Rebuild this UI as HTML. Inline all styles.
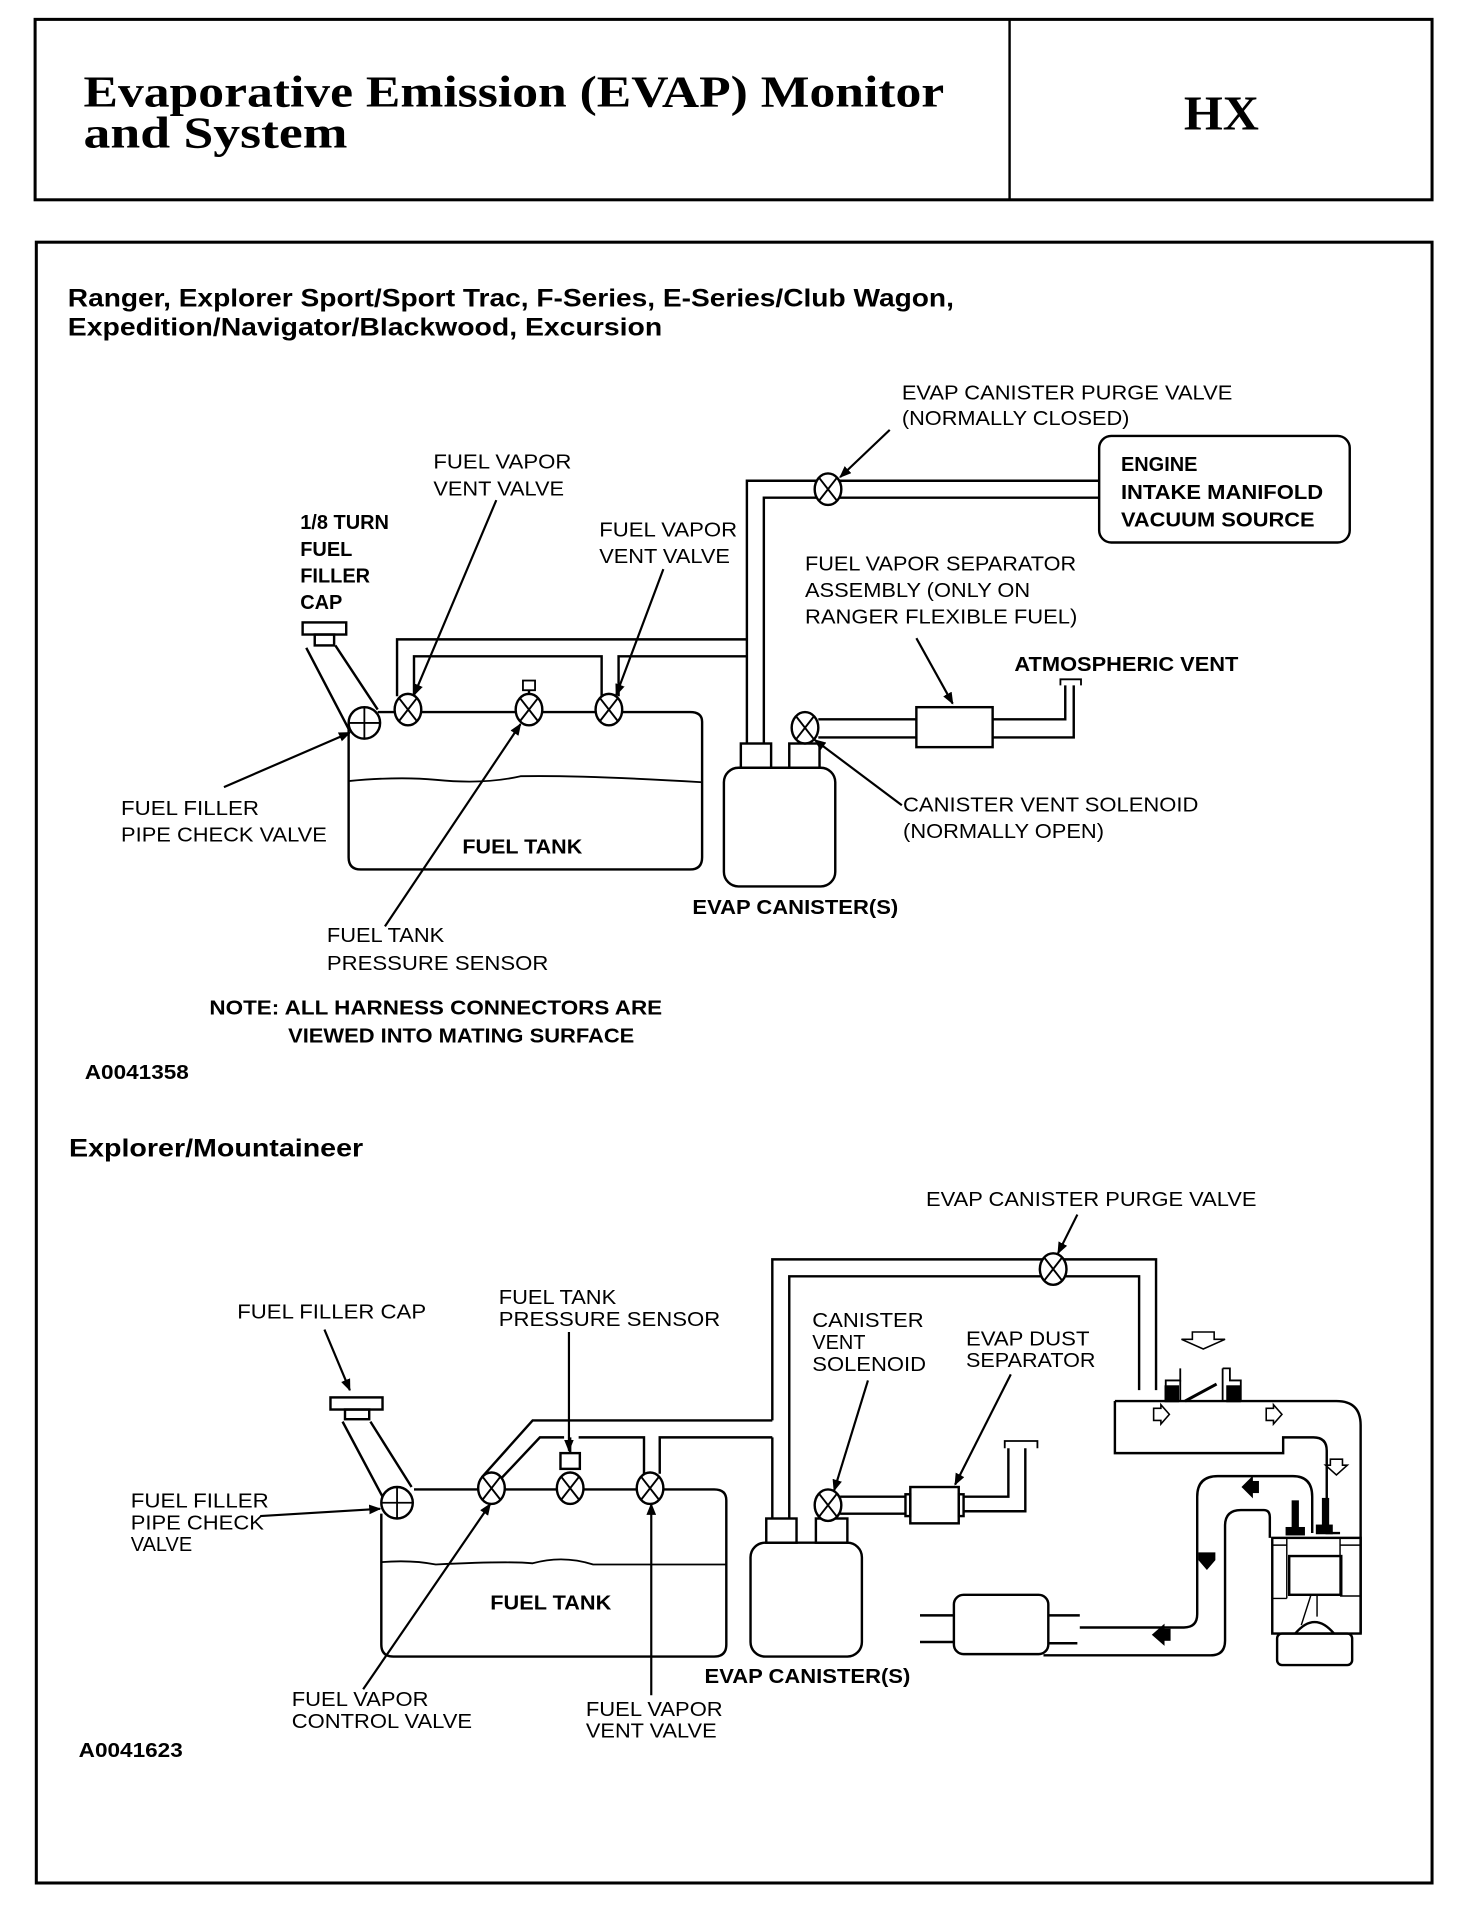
<!DOCTYPE html>
<html><head><meta charset="utf-8"><style>
html,body{margin:0;padding:0;background:#fff;}
svg{display:block;}
text{font-family:"Liberation Sans",Arial,sans-serif;fill:#000;}
.l{font-size:16.5px;}
.b{font-size:16.5px;font-weight:bold;}
.h{font-size:21px;font-weight:bold;}
.t{font-family:"Liberation Serif",serif;font-weight:bold;}
</style></head><body>
<svg width="1472" height="1906" viewBox="0 0 1216 1574" preserveAspectRatio="none" xmlns="http://www.w3.org/2000/svg">
<defs>
<marker id="ar" markerWidth="10" markerHeight="8" refX="9" refY="4" orient="auto" markerUnits="userSpaceOnUse">
<path d="M0,0 L10,4 L0,8 z" fill="#000"/></marker>
<g id="v"><ellipse cx="0" cy="0" rx="11" ry="13" fill="#fff" stroke="#000" stroke-width="2"/><path d="M-7,-9 L7,9 M7,-9 L-7,9" stroke="#000" stroke-width="1.6"/></g>
</defs>
<g fill="none" stroke="#000" stroke-width="2">
<rect x="29" y="16" width="1154" height="149" stroke-width="2.5"/>
<line x1="834" y1="16" x2="834" y2="165"/>
<rect x="30" y="200" width="1153" height="1355" stroke-width="2.5"/>

<path d="M617,614 V397 H908"/>
<path d="M631,614 V411 H908"/>
<rect x="908" y="360" width="207" height="88" rx="10"/>
<path d="M328,575 V528 H617"/>
<path d="M342,575 V542 H497 V575"/>
<path d="M511,575 V542 H617"/>
<path d="M288,600 V708 Q288,718 298,718 H570 Q580,718 580,708 V596 Q580,588 570,588 H312"/>
<path d="M288,645 Q330,641 360,644 Q400,648 430,641 Q480,640 580,646" stroke-width="1.5"/>
<rect x="250" y="514" width="36" height="10"/>
<rect x="260" y="524" width="16" height="9"/>
<path d="M253,535 L288,602 M277,533 L312,586"/>
<circle cx="301" cy="597" r="13" fill="#fff"/>
<path d="M301,584 V610 M288,597 H314" stroke-width="1.5"/>
<rect x="432" y="562" width="10" height="8" stroke-width="1.5"/>
<line x1="437" y1="570" x2="437" y2="574"/>
<rect x="612" y="614" width="25" height="20"/>
<rect x="652" y="614" width="25" height="20"/>
<rect x="598" y="634" width="92" height="98" rx="12"/>
<path d="M676,594 H757 M676,609 H757"/>
<rect x="757" y="584" width="63" height="33"/>
<path d="M820,594 H880 V566 M820,609 H887 V566"/>
<path d="M876,566 V561 H893 V566" stroke-width="1.5"/>
<g stroke-width="1.8">
<line x1="735" y1="355" x2="694" y2="394" marker-end="url(#ar)"/>
<line x1="410" y1="413" x2="342" y2="574" marker-end="url(#ar)"/>
<line x1="548" y1="470" x2="509" y2="574" marker-end="url(#ar)"/>
<line x1="757" y1="527" x2="787" y2="581" marker-end="url(#ar)"/>
<line x1="745" y1="665" x2="673" y2="611" marker-end="url(#ar)"/>
<line x1="185" y1="650" x2="289" y2="605" marker-end="url(#ar)"/>
<line x1="318" y1="765" x2="430" y2="598" marker-end="url(#ar)"/>
</g>

<path d="M638,1173 V1040 H955 V1148"/>
<path d="M652,1254 V1054 H941 V1148"/>
<path d="M638,1187 V1254"/>
<path d="M398,1220 L440,1173 H638"/>
<path d="M413,1222 L446,1187 H466 M478,1187 H532 V1217 M545,1217 V1187 H638"/>
<line x1="471" y1="1187" x2="471" y2="1200"/>
<rect x="463" y="1200" width="16" height="13" fill="#fff"/>
<path d="M315,1250 V1358 Q315,1368 325,1368 H590 Q600,1368 600,1358 V1239 Q600,1230 590,1230 H342"/>
<path d="M315,1290 Q340,1288 360,1292 Q420,1289 440,1291 Q465,1284 490,1292 H600" stroke-width="1.5"/>
<rect x="273" y="1154" width="43" height="10"/>
<rect x="285" y="1164" width="20" height="8"/>
<path d="M283,1174 L316,1236 M306,1174 L340,1228"/>
<circle cx="328" cy="1241" r="13" fill="#fff"/>
<path d="M328,1228 V1254 M315,1241 H341" stroke-width="1.5"/>
<rect x="633" y="1254" width="25" height="20"/>
<rect x="674" y="1254" width="26" height="20"/>
<rect x="620" y="1274" width="92" height="94" rx="12"/>
<path d="M694,1236 H748 M694,1250 H748"/>
<rect x="752" y="1228" width="40" height="30"/>
<rect x="748" y="1234" width="4" height="18"/><rect x="792" y="1234" width="4" height="18"/>
<path d="M796,1236 H833 V1196 M796,1248 H847 V1196"/>
<path d="M830,1196 V1190 H857 V1196" stroke-width="1.5"/>
<g stroke-width="1.8">
<line x1="890" y1="1003" x2="874" y2="1035" marker-end="url(#ar)"/>
<line x1="268" y1="1098" x2="289" y2="1148" marker-end="url(#ar)"/>
<line x1="470" y1="1100" x2="470" y2="1198" marker-end="url(#ar)"/>
<line x1="717" y1="1140" x2="689" y2="1231" marker-end="url(#ar)"/>
<line x1="835" y1="1135" x2="789" y2="1226" marker-end="url(#ar)"/>
<line x1="215" y1="1252" x2="314" y2="1246" marker-end="url(#ar)"/>
<line x1="300" y1="1395" x2="405" y2="1242" marker-end="url(#ar)"/>
<line x1="538" y1="1400" x2="538" y2="1242" marker-end="url(#ar)"/>
</g>
<path d="M921,1157 V1200 H1060 V1187 H1085 Q1096,1187 1096,1198 V1266 H1107"/>
<path d="M921,1157 H1104 Q1124,1157 1124,1177 V1349"/>
<path d="M963,1157 V1140 H975 V1130 M1010,1130 V1157 M1010,1130 H1016 V1140 H1025 V1157" stroke-width="1.5"/>
<path d="M975,1140 V1157" stroke-width="1.5"/>
<rect x="963" y="1145" width="10" height="12" fill="#000"/>
<rect x="1014" y="1145" width="10" height="12" fill="#000"/>
<path d="M979,1157 L1005,1143" stroke-width="2.5"/>
<path d="M892,1344 H978 Q989,1344 989,1333 V1236 Q989,1219 1006,1219 H1068 Q1084,1219 1084,1236 V1266"/>
<path d="M862,1367 H1000 Q1012,1367 1012,1355 V1260 Q1012,1247 1025,1247 H1044 Q1049,1247 1049,1253 V1270"/>
<rect x="1051" y="1270" width="73" height="79"/>
<rect x="1065" y="1285" width="43" height="32"/>
<path d="M1051,1276 H1063 M1107,1276 H1124 M1051,1320 H1063 M1107,1318 H1124 M1063,1270 V1320 M1107,1270 V1318" stroke-width="1.2"/>
<path d="M1070,1349 Q1086,1330 1102,1349" />
<path d="M1083,1317 L1075,1342 M1088,1317 V1335" stroke-width="1.2"/>
<rect x="1055" y="1349" width="62" height="26" rx="4"/>
<rect x="1068" y="1240" width="4" height="24" fill="#000"/><rect x="1063" y="1262" width="14" height="5" fill="#000"/>
<rect x="1093" y="1238" width="4" height="26" fill="#000"/><rect x="1088" y="1260" width="12" height="6" fill="#000"/>
<rect x="788" y="1317" width="78" height="49" rx="8"/>
<path d="M760,1334 H788 M760,1356 H788 M866,1334 H892 M866,1357 H890"/>
<path d="M985,1100 H1003 V1106 H1012 L994,1114 L976,1106 H985 Z" stroke-width="1.3"/>
<path d="M953,1163 H959 V1160 L966,1168 L959,1176 V1173 H953 Z" stroke-width="1.3"/>
<path d="M1046,1163 H1052 V1160 L1059,1168 L1052,1176 V1173 H1046 Z" stroke-width="1.3"/>
<path d="M1099,1205 H1109 V1210 H1113 L1104,1218 L1095,1210 H1099 Z" stroke-width="1.3"/>
<path d="M1027,1228 L1034,1221 V1235 Z" fill="#000"/><rect x="1033" y="1224" width="6" height="8" fill="#000"/>
<path d="M991,1283 H1003 V1288 L997,1295 L991,1288 Z" fill="#000"/>
<path d="M953,1350 L961,1343 V1357 Z" fill="#000"/><rect x="960" y="1346" width="6" height="8" fill="#000"/>
</g>
<use href="#v" x="684" y="404"/>
<use href="#v" x="337" y="586"/>
<use href="#v" x="437" y="586"/>
<use href="#v" x="503" y="586"/>
<use href="#v" x="665" y="601"/>
<use href="#v" x="870" y="1048"/>
<use href="#v" x="406" y="1229"/>
<use href="#v" x="471" y="1229"/>
<use href="#v" x="537" y="1229"/>
<use href="#v" x="684" y="1243"/>

<text class="t" x="69" y="88" font-size="37" textLength="711" lengthAdjust="spacingAndGlyphs">Evaporative Emission (EVAP) Monitor</text>
<text class="t" x="69" y="122" font-size="37" textLength="218" lengthAdjust="spacingAndGlyphs">and  System</text>
<text class="t" x="978" y="107" font-size="40" textLength="62" lengthAdjust="spacingAndGlyphs">HX</text>

<text class="h" x="56" y="253" textLength="732" lengthAdjust="spacingAndGlyphs">Ranger, Explorer Sport/Sport Trac, F-Series, E-Series/Club Wagon,</text>
<text class="h" x="56" y="277" textLength="491" lengthAdjust="spacingAndGlyphs">Expedition/Navigator/Blackwood,   Excursion</text>

<text class="l" x="745" y="330" textLength="273" lengthAdjust="spacingAndGlyphs">EVAP CANISTER PURGE VALVE</text>
<text class="l" x="745" y="351" textLength="188" lengthAdjust="spacingAndGlyphs">(NORMALLY CLOSED)</text>
<text class="b" x="926" y="389">ENGINE</text>
<text class="b" x="926" y="412" textLength="167" lengthAdjust="spacingAndGlyphs">INTAKE MANIFOLD</text>
<text class="b" x="926" y="435" textLength="160" lengthAdjust="spacingAndGlyphs">VACUUM SOURCE</text>
<text class="l" x="358" y="387" textLength="114" lengthAdjust="spacingAndGlyphs">FUEL VAPOR</text>
<text class="l" x="358" y="409" textLength="108" lengthAdjust="spacingAndGlyphs">VENT VALVE</text>
<text class="b" x="248" y="437">1/8 TURN</text>
<text class="b" x="248" y="459">FUEL</text>
<text class="b" x="248" y="481">FILLER</text>
<text class="b" x="248" y="503">CAP</text>
<text class="l" x="495" y="443" textLength="114" lengthAdjust="spacingAndGlyphs">FUEL VAPOR</text>
<text class="l" x="495" y="465" textLength="108" lengthAdjust="spacingAndGlyphs">VENT VALVE</text>
<text class="l" x="665" y="471" textLength="224" lengthAdjust="spacingAndGlyphs">FUEL VAPOR SEPARATOR</text>
<text class="l" x="665" y="493" textLength="186" lengthAdjust="spacingAndGlyphs">ASSEMBLY (ONLY ON</text>
<text class="l" x="665" y="515" textLength="225" lengthAdjust="spacingAndGlyphs">RANGER FLEXIBLE FUEL)</text>
<text class="b" x="838" y="554" textLength="185" lengthAdjust="spacingAndGlyphs">ATMOSPHERIC VENT</text>
<text class="l" x="746" y="670" textLength="244" lengthAdjust="spacingAndGlyphs">CANISTER VENT SOLENOID</text>
<text class="l" x="746" y="692" textLength="166" lengthAdjust="spacingAndGlyphs">(NORMALLY OPEN)</text>
<text class="l" x="100" y="673" textLength="114" lengthAdjust="spacingAndGlyphs">FUEL FILLER</text>
<text class="l" x="100" y="695" textLength="170" lengthAdjust="spacingAndGlyphs">PIPE CHECK VALVE</text>
<text class="b" x="382" y="705" textLength="99" lengthAdjust="spacingAndGlyphs">FUEL TANK</text>
<text class="l" x="270" y="778" textLength="97" lengthAdjust="spacingAndGlyphs">FUEL TANK</text>
<text class="l" x="270" y="801" textLength="183" lengthAdjust="spacingAndGlyphs">PRESSURE SENSOR</text>
<text class="b" x="572" y="755" textLength="170" lengthAdjust="spacingAndGlyphs">EVAP CANISTER(S)</text>
<text class="b" x="173" y="838" textLength="374" lengthAdjust="spacingAndGlyphs">NOTE:  ALL HARNESS CONNECTORS ARE</text>
<text class="b" x="238" y="861" textLength="286" lengthAdjust="spacingAndGlyphs">VIEWED INTO MATING SURFACE</text>
<text class="b" x="70" y="891" font-size="16" textLength="86" lengthAdjust="spacingAndGlyphs">A0041358</text>

<text class="h" x="57" y="955" textLength="243" lengthAdjust="spacingAndGlyphs">Explorer/Mountaineer</text>
<text class="l" x="765" y="996" textLength="273" lengthAdjust="spacingAndGlyphs">EVAP CANISTER PURGE VALVE</text>
<text class="l" x="196" y="1089" textLength="156" lengthAdjust="spacingAndGlyphs">FUEL FILLER CAP</text>
<text class="l" x="412" y="1077" textLength="97" lengthAdjust="spacingAndGlyphs">FUEL TANK</text>
<text class="l" x="412" y="1095" textLength="183" lengthAdjust="spacingAndGlyphs">PRESSURE SENSOR</text>
<text class="l" x="671" y="1096" textLength="92" lengthAdjust="spacingAndGlyphs">CANISTER</text>
<text class="l" x="671" y="1114">VENT</text>
<text class="l" x="671" y="1132" textLength="94" lengthAdjust="spacingAndGlyphs">SOLENOID</text>
<text class="l" x="798" y="1111" textLength="102" lengthAdjust="spacingAndGlyphs">EVAP DUST</text>
<text class="l" x="798" y="1129" textLength="107" lengthAdjust="spacingAndGlyphs">SEPARATOR</text>
<text class="l" x="108" y="1245" textLength="114" lengthAdjust="spacingAndGlyphs">FUEL FILLER</text>
<text class="l" x="108" y="1263" textLength="110" lengthAdjust="spacingAndGlyphs">PIPE CHECK</text>
<text class="l" x="108" y="1281">VALVE</text>
<text class="b" x="405" y="1329" textLength="100" lengthAdjust="spacingAndGlyphs">FUEL TANK</text>
<text class="b" x="582" y="1390" textLength="170" lengthAdjust="spacingAndGlyphs">EVAP CANISTER(S)</text>
<text class="l" x="241" y="1409" textLength="113" lengthAdjust="spacingAndGlyphs">FUEL VAPOR</text>
<text class="l" x="241" y="1427" textLength="149" lengthAdjust="spacingAndGlyphs">CONTROL VALVE</text>
<text class="l" x="484" y="1417" textLength="113" lengthAdjust="spacingAndGlyphs">FUEL VAPOR</text>
<text class="l" x="484" y="1435" textLength="108" lengthAdjust="spacingAndGlyphs">VENT VALVE</text>
<text class="b" x="65" y="1451" font-size="16" textLength="86" lengthAdjust="spacingAndGlyphs">A0041623</text>
</svg>
</body></html>
